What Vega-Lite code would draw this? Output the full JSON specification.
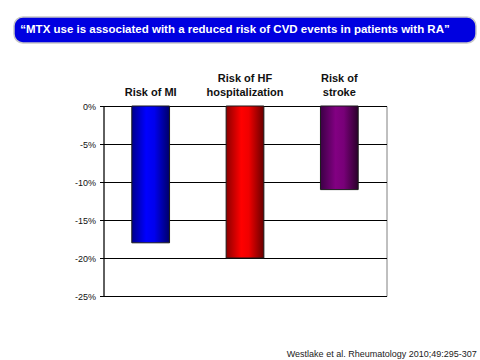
{
  "$schema": "https://vega.github.io/schema/vega-lite/v6.json",
  "padding": {"left": 13, "top": 16, "right": 5, "bottom": 4},
  "background": "#ffffff",
  "title": {"text": "Westlake et al. Rheumatology 2010;49:295-307", "orient": "bottom", "anchor": "end", "fontSize": 9, "font": "Liberation Sans", "fontWeight": "normal", "color": "#222222", "offset": 48},
  "bounds": "flush",
  "center": true,
  "spacing": 63,
  "vconcat": [
    {
      "width": 462,
      "height": 26,
      "view": {"fill": "#0000e0", "stroke": "#c8c8c8", "strokeWidth": 1.5, "cornerRadius": 9},
      "data": {"values": [{"t": "“MTX use is associated with a reduced risk of CVD events in patients with RA”"}]},
      "mark": {"type": "text", "font": "Liberation Sans", "fontWeight": "bold", "fontSize": 11.5, "color": "#ffffff", "dx": -10, "baseline": "middle"},
      "encoding": {"text": {"field": "t"}}
    },
    {
      "width": 283,
      "height": 190,
      "view": {"stroke": "#808080", "strokeWidth": 1, "fill": "#ffffff"},
      "data": {"values": [
        {"risk": "Risk of MI", "value": -18},
        {"risk": "Risk of HF hospitalization", "value": -20},
        {"risk": "Risk of stroke", "value": -11}
      ]},
      "encoding": {
        "x": {"field": "risk", "type": "nominal", "sort": null,
          "scale": {"domain": ["Risk of MI", "Risk of HF hospitalization", "Risk of stroke"], "paddingInner": 0.6, "paddingOuter": 0.3},
          "axis": {"orient": "top", "title": null, "domain": false, "ticks": false, "grid": false, "labelAngle": 0,
            "labelFont": "Liberation Sans", "labelFontWeight": "bold", "labelFontSize": 11, "labelColor": "#111111",
            "labelPadding": 23, "labelLineHeight": 14,
            "labelExpr": "datum.label == 'Risk of HF hospitalization' ? ['Risk of HF', 'hospitalization'] : datum.label == 'Risk of stroke' ? ['Risk of', 'stroke'] : ['', datum.label]"}},
        "y": {"field": "value", "type": "quantitative", "scale": {"domain": [-25, 0], "nice": false},
          "axis": {"title": null, "values": [0, -5, -10, -15, -20, -25], "labelExpr": "datum.value + '%'",
            "grid": true, "gridColor": "#000000", "gridWidth": 1, "gridOpacity": 1,
            "domainColor": "#000000", "domainWidth": 1, "tickColor": "#000000", "tickSize": 4,
            "labelFont": "Liberation Sans", "labelFontSize": 9, "labelColor": "#111111", "labelPadding": 4}}
      },
      "layer": [
        {"transform": [{"filter": "datum.risk == 'Risk of MI'"}],
         "mark": {"type": "bar", "stroke": "#1a1a1a", "strokeWidth": 1,
           "fill": {"gradient": "linear", "x1": 0, "x2": 1, "y1": 0, "y2": 0,
             "stops": [{"offset": 0, "color": "#00008c"}, {"offset": 0.38, "color": "#0000ff"}, {"offset": 0.6, "color": "#0000ee"}, {"offset": 1, "color": "#000068"}]}}},
        {"transform": [{"filter": "datum.risk == 'Risk of HF hospitalization'"}],
         "mark": {"type": "bar", "stroke": "#1a1a1a", "strokeWidth": 1,
           "fill": {"gradient": "linear", "x1": 0, "x2": 1, "y1": 0, "y2": 0,
             "stops": [{"offset": 0, "color": "#8c0000"}, {"offset": 0.4, "color": "#ff0000"}, {"offset": 0.6, "color": "#f00000"}, {"offset": 1, "color": "#680000"}]}}},
        {"transform": [{"filter": "datum.risk == 'Risk of stroke'"}],
         "mark": {"type": "bar", "stroke": "#1a1a1a", "strokeWidth": 1,
           "fill": {"gradient": "linear", "x1": 0, "x2": 1, "y1": 0, "y2": 0,
             "stops": [{"offset": 0, "color": "#3c0046"}, {"offset": 0.4, "color": "#820082"}, {"offset": 0.62, "color": "#780078"}, {"offset": 1, "color": "#2a002a"}]}}}
      ]
    }
  ]
}
